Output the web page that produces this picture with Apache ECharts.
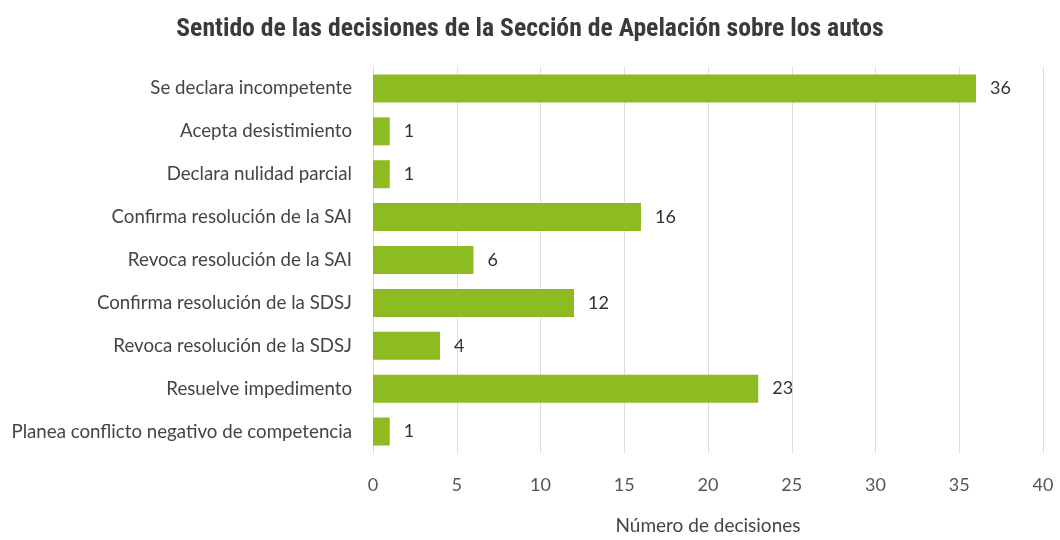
<!DOCTYPE html>
<html>
<head>
<meta charset="utf-8">
<script src="https://cdn.jsdelivr.net/npm/echarts@6/dist/echarts.min.js"></script>
<style>
html, body { margin: 0; padding: 0; background: #fff; }
#chart { width: 1060px; height: 540px; }
</style>
</head>
<body>
<div id="chart"></div>
<script>
// categorias de arriba hacia abajo
let categories = [
    'Se declara incompetente',
    'Acepta desistimiento',
    'Declara nulidad parcial',
    'Confirma resolución de la SAI',
    'Revoca resolución de la SAI',
    'Confirma resolución de la SDSJ',
    'Revoca resolución de la SDSJ',
    'Resuelve impedimento',
    'Planea conflicto negativo de competencia'
];
let decisiones = [36, 1, 1, 16, 6, 12, 4, 23, 1];

let myChart = echarts.init(document.getElementById('chart'));
let option = {
    backgroundColor: '#fff',
    title: {
        text: 'Sentido de las decisiones de la Sección de Apelación sobre los autos',
        left: 'center',
        top: 12,
        textStyle: {
            fontFamily: "'Roboto Condensed', 'Liberation Sans Narrow', 'DejaVu Sans Condensed', Roboto",
            fontWeight: 'bold',
            fontSize: 25.7,
            color: '#3a3a3a'
        }
    },
    grid: {
        left: 373,
        right: 17,
        top: 67,
        bottom: 80
    },
    xAxis: {
        type: 'value',
        min: 0,
        max: 40,
        interval: 5,
        name: 'Número de decisiones',
        nameLocation: 'middle',
        nameGap: 63,
        nameTextStyle: {fontFamily: 'Lato', fontSize: 19, color: '#444'},
        axisLine: {show: false},
        axisTick: {show: false},
        axisLabel: {fontFamily: 'Lato', fontSize: 18, color: '#555', margin: 23},
        splitLine: {lineStyle: {color: '#dcdcdc', width: 1}}
    },
    yAxis: {
        type: 'category',
        inverse: true,
        data: categories,
        axisLine: {lineStyle: {color: '#dcdcdc'}},
        axisTick: {show: false},
        axisLabel: {fontFamily: 'Lato', fontSize: 18.7, color: '#444', margin: 21}
    },
    series: [{
        type: 'bar',
        data: decisiones,
        barWidth: 28,
        itemStyle: {color: '#8fbb22'},
        label: {
            show: true,
            position: 'right',
            distance: 14,
            fontFamily: 'Lato',
            fontSize: 18,
            color: '#333'
        }
    }]
};
myChart.setOption(option);
</script>
</body>
</html>
